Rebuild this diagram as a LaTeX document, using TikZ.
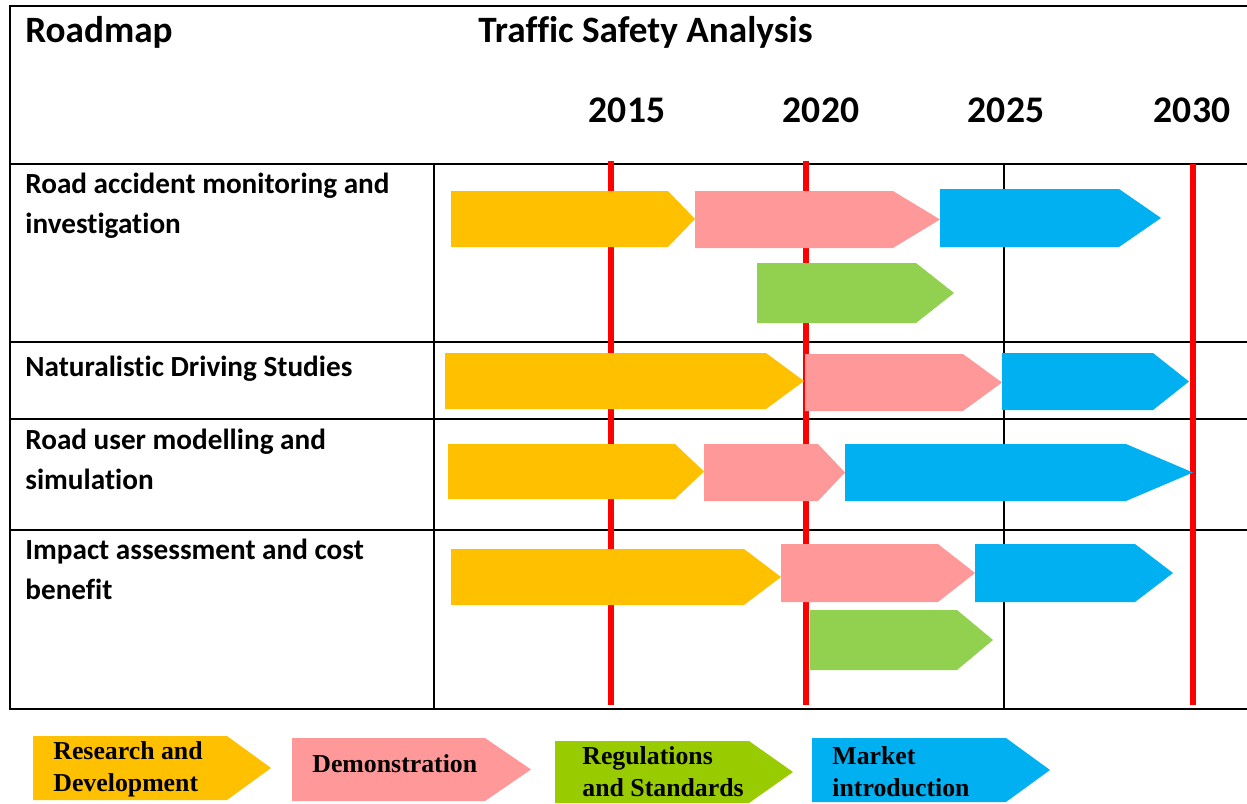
\documentclass[tikz,border=0pt]{standalone}
\usepackage{fontspec}
\setmainfont{Carlito}[Ligatures={NoCommon,NoContextual}]
\newfontfamily\legendfont{Liberation Serif}
\usepackage{tikz}

\definecolor{rdyellow}{HTML}{FFC000}
\definecolor{rdpink}{HTML}{FF9999}
\definecolor{rdgreen}{HTML}{92D050}
\definecolor{rdlime}{HTML}{99CC00}
\definecolor{rdblue}{HTML}{00B0F0}

% chevron: colour, left, body end, tip, top, bottom
\newcommand{\chev}[6]{\fill[#1] (#2,#5) -- (#3,#5) -- (#4,{(#5+#6)/2}) -- (#3,#6) -- (#2,#6) -- cycle;}

\tikzset{
	tableline/.style={black,line width=1pt},
	redline/.style={red,line width=3pt},
	headtext/.style={anchor=base west,inner sep=0pt,font=\bfseries\fontsize{18.6}{22}\selectfont},
	year/.style={anchor=base,inner sep=0pt,font=\bfseries\fontsize{18.8}{22}\selectfont},
	rowlabel/.style={anchor=base west,inner sep=0pt,align=left,font=\bfseries\fontsize{14.6}{20}\selectfont},
	legtext/.style={anchor=base west,inner sep=0pt,align=left,font=\legendfont\bfseries\fontsize{12.9}{16}\selectfont}
}

\begin{document}
\begin{tikzpicture}[x=0.5pt,y=-0.5pt]
		\useasboundingbox (0,0) rectangle (1247,803);
		% table
		\draw[tableline] (1248,6) -- (10,6) -- (10,709) -- (1248,709);
		\foreach \yy in {164,342,419,530}
			{
			\draw[tableline] (10,\yy) -- (1248,\yy);
			}
		\draw[tableline] (434,164) -- (434,709);
		\draw[black,line width=0.75pt] (1004,164) -- (1004,709);
		% milestones
		\foreach \xx in {611,806}
			{
			\draw[redline] (\xx,161) -- (\xx,705);
			}
		\draw[redline] (1193,164) -- (1193,705);
		% header
		\node[headtext] (roadmap) at (25,42) {Roadmap};
		\node[headtext] (title) at (478,42) {Traffic Safety Analysis};
		\foreach \yr/\xx in {2015/627,2020/821,2025/1006,2030/1192}
			{
			\node[year] (y\yr) at (\xx,122) {\yr};
			}
		% rows (base anchor sits on the last line)
		\node[rowlabel] (accident) at (25,233) {Road accident monitoring and\\investigation};
		\node[rowlabel] (naturalistic) at (25,376) {Naturalistic Driving Studies};
		\node[rowlabel] (usermodel) at (25,489) {Road user modelling and\\simulation};
		\node[rowlabel] (impact) at (25,599) {Impact assessment and cost\\benefit};
		% phases
		\chev{rdyellow}{451}{668}{695}{191}{247}
		\chev{rdpink}{695}{893}{940}{191}{248}
		\chev{rdblue}{940}{1119}{1161}{189}{247}
		\chev{rdgreen}{757}{916}{954}{263}{323}
		\chev{rdyellow}{445}{766}{804}{353}{409}
		\chev{rdpink}{805}{963}{1002}{354}{411}
		\chev{rdblue}{1002}{1153}{1189}{353}{410}
		\chev{rdyellow}{448}{675}{704}{444}{499}
		\chev{rdpink}{704}{818}{845}{444}{501}
		\chev{rdblue}{845}{1126}{1193}{444}{501}
		\chev{rdyellow}{451}{744}{781}{549}{605}
		\chev{rdpink}{781}{938}{975}{544}{602}
		\chev{rdblue}{975}{1135}{1173}{544}{602}
		\chev{rdgreen}{810}{957}{993}{610}{670}
		% legend
		\chev{rdyellow}{33}{227}{271}{736}{800}
		\chev{rdpink}{292}{485}{531}{738}{801}
		\chev{rdlime}{555}{749}{793}{741}{803}
		\chev{rdblue}{812}{1006}{1050}{738}{802}
		\node[legtext] (research) at (53,791) {Research and\\Development};
		\node[legtext] (demo) at (312,772) {Demonstration};
		\node[legtext] (regs) at (582,796) {Regulations\\and Standards};
		\node[legtext] (market) at (832,796) {Market\\introduction};
	\end{tikzpicture}
\end{document}
